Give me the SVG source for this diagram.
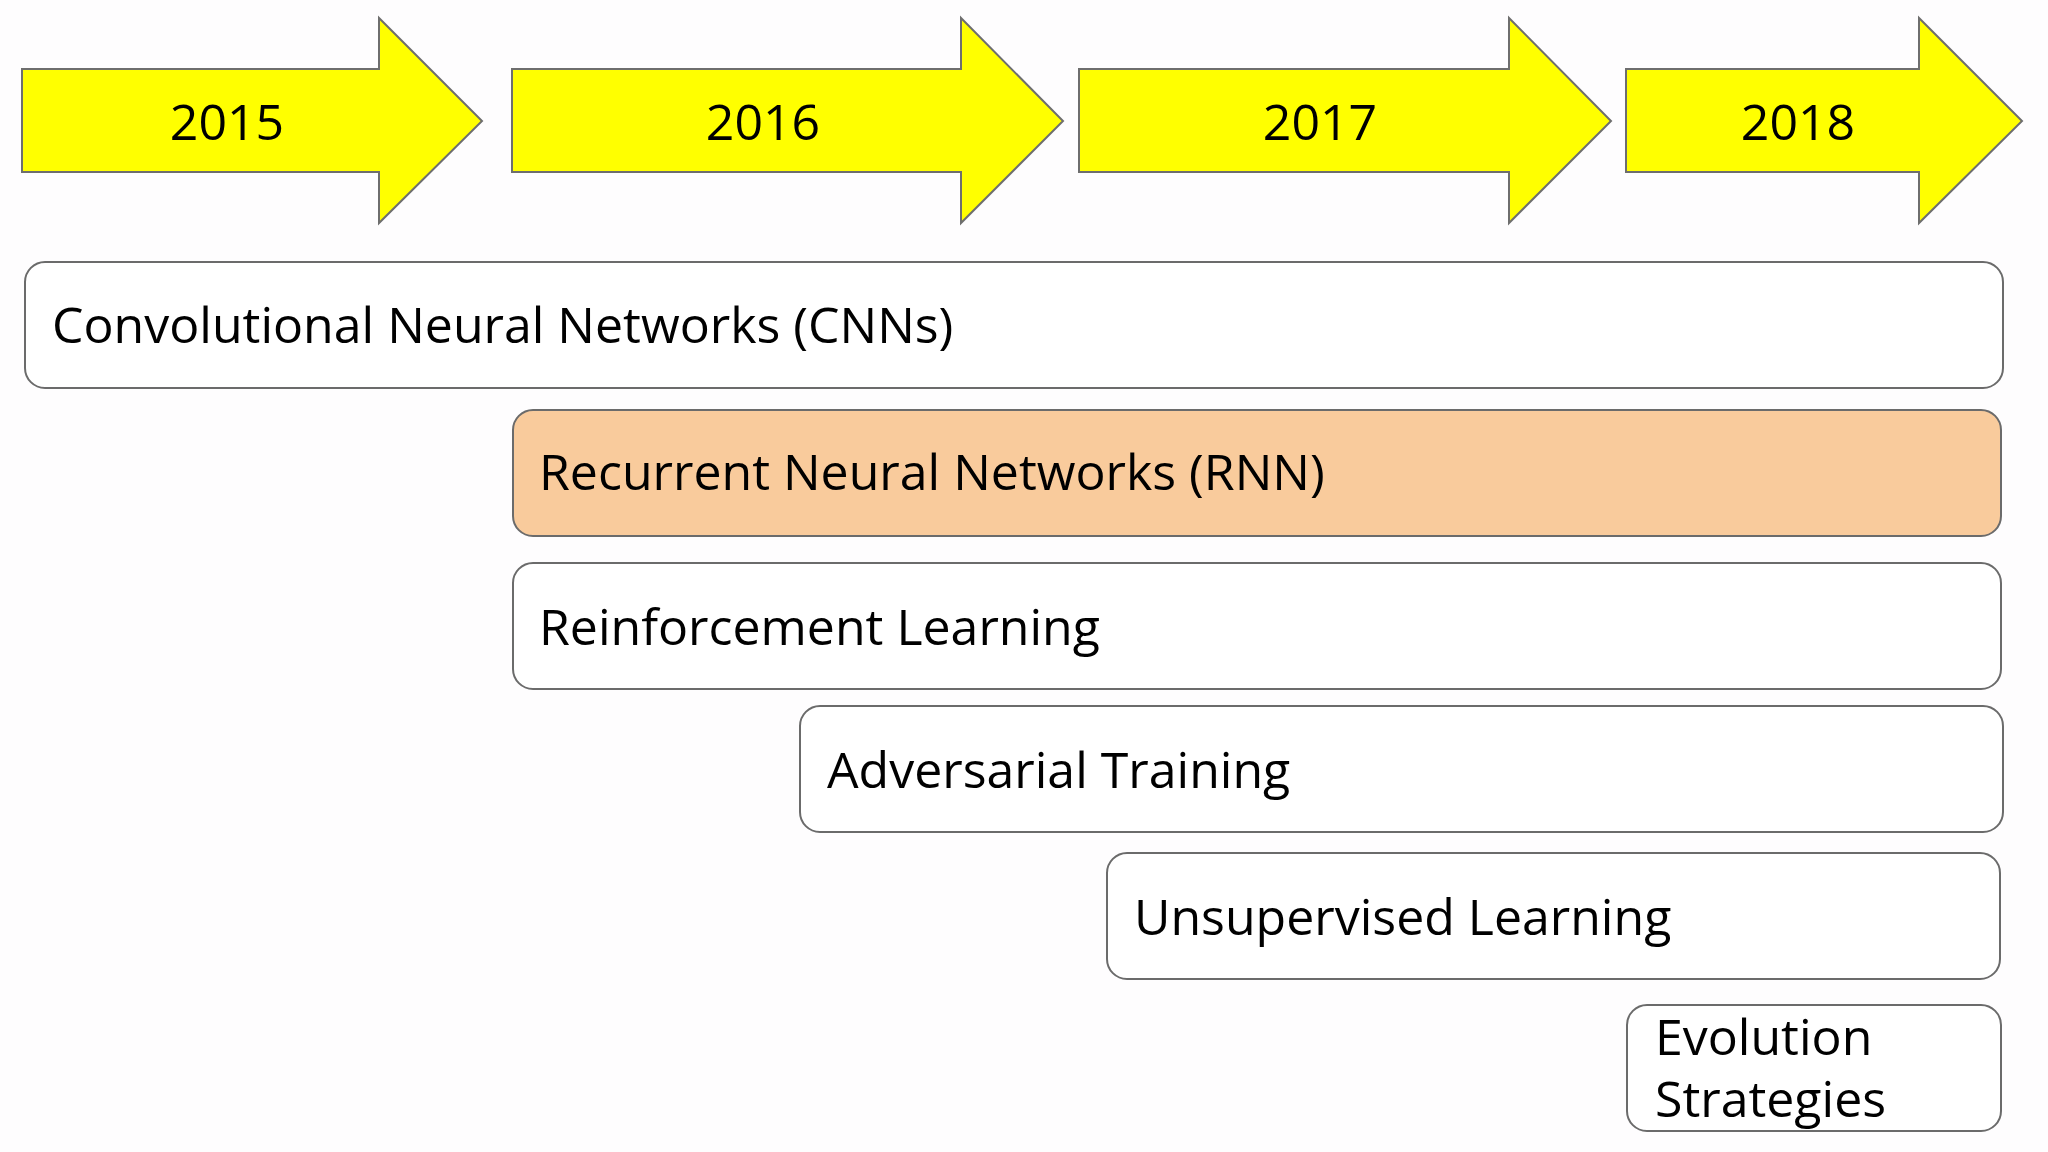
<svg xmlns="http://www.w3.org/2000/svg" width="2048" height="1152" viewBox="0 0 2048 1152">
  <style>
    .yr { fill: #FFFF00; stroke: #6E6E6E; stroke-width: 2; stroke-linejoin: miter; }
    .box { fill: #FFFFFF; stroke: #6B6B6B; stroke-width: 2; }
    .rnn { fill: #F9CB9C; }
    .t { font-family: "Open Sans", "Liberation Sans", sans-serif; font-size: 50px; fill: #000000; }
    .c { text-anchor: middle; }
  </style>
  <rect x="0" y="0" width="2048" height="1152" fill="#FEFDFE"/>

  <g id="year-2015">
    <polygon class="yr" points="22,69 379,69 379,18 482,121 379,223 379,172 22,172"/>
    <text class="t c" x="227" y="140">2015</text>
  </g>
  <g id="year-2016">
    <polygon class="yr" points="512,69 961,69 961,18 1063,121 961,223 961,172 512,172"/>
    <text class="t c" x="763" y="140">2016</text>
  </g>
  <g id="year-2017">
    <polygon class="yr" points="1079,69 1509,69 1509,18 1611,121 1509,223 1509,172 1079,172"/>
    <text class="t c" x="1320" y="140">2017</text>
  </g>
  <g id="year-2018">
    <polygon class="yr" points="1626,69 1919,69 1919,18 2022,121 1919,223 1919,172 1626,172"/>
    <text class="t c" x="1798" y="140">2018</text>
  </g>

  <g id="cnn">
    <rect class="box" x="25" y="262" width="1978" height="126" rx="20" ry="20"/>
    <text class="t" x="52" y="343">Convolutional Neural Networks (CNNs)</text>
  </g>
  <g id="rnn">
    <rect class="box rnn" x="513" y="410" width="1488" height="126" rx="20" ry="20"/>
    <text class="t" x="539" y="490">Recurrent Neural Networks (RNN)</text>
  </g>
  <g id="reinforcement">
    <rect class="box" x="513" y="563" width="1488" height="126" rx="20" ry="20"/>
    <text class="t" x="539" y="645">Reinforcement Learning</text>
  </g>
  <g id="adversarial">
    <rect class="box" x="800" y="706" width="1203" height="126" rx="20" ry="20"/>
    <text class="t" x="827" y="788">Adversarial Training</text>
  </g>
  <g id="unsupervised">
    <rect class="box" x="1107" y="853" width="893" height="126" rx="20" ry="20"/>
    <text class="t" x="1134" y="935">Unsupervised Learning</text>
  </g>
  <g id="evolution">
    <rect class="box" x="1627" y="1005" width="374" height="126" rx="20" ry="20"/>
    <text class="t" x="1655" y="1055">Evolution</text>
    <text class="t" x="1655" y="1117">Strategies</text>
  </g>

  <g id="connectors"/>
</svg>
